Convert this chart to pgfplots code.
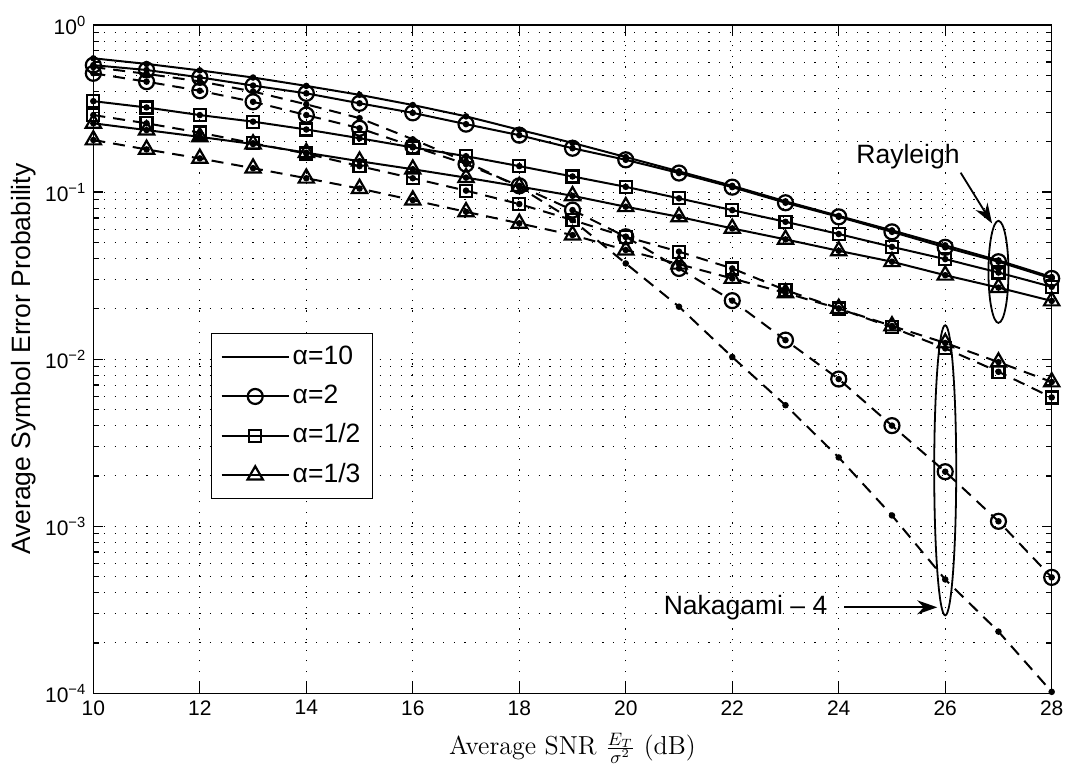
\documentclass[border=0pt]{standalone}
\usepackage{fontspec}
\setsansfont{Liberation Sans}
\usepackage{pgfplots}
\pgfplotsset{compat=1.18}
\usepackage{pgfplotstable}
\usetikzlibrary{arrows.meta}

% r = Rayleigh (solid), n = Nakagami-4 (dashed); 10, 2, 1/2, 1/3 = alpha
\pgfplotstableread{
snr r10   r2     r12    r13    n10      n2       n12    n13
10  0.632 0.575  0.350  0.258  0.560    0.514    0.289  0.205
11  0.585 0.538  0.321  0.235  0.510    0.458    0.258  0.180
12  0.535 0.486  0.289  0.214  0.460    0.404    0.227  0.159
13  0.485 0.434  0.264  0.194  0.400    0.347    0.196  0.139
14  0.432 0.390  0.237  0.172  0.335    0.289    0.170  0.121
15  0.382 0.340  0.210  0.153  0.277    0.241    0.143  0.105
16  0.332 0.298  0.185  0.137  0.207    0.188    0.121  0.0895
17  0.284 0.255  0.164  0.122  0.152    0.147    0.102  0.0762
18  0.236 0.219  0.143  0.108  0.107    0.109    0.0848 0.065
19  0.197 0.183  0.124  0.095  0.068    0.078    0.068  0.0553
20  0.162 0.156  0.1075 0.0817 0.0374   0.054    0.054  0.045
21  0.133 0.130  0.0917 0.0711 0.0206   0.0349   0.044  0.037
22  0.109 0.107  0.078  0.0606 0.0103   0.0224   0.0349 0.0304
23  0.088 0.0863 0.0664 0.0521 0.0053   0.0130   0.0259 0.0249
24  0.072 0.0711 0.0561 0.0445 0.00258  0.0076   0.0201 0.0201
25  0.059 0.0578 0.0470 0.0383 0.00116  0.0040   0.0155 0.0158
26  0.048 0.0467 0.0397 0.0318 0.00048  0.00212  0.0116 0.0125
27  0.039 0.0383 0.0330 0.0268 0.000234 0.00107  0.0084 0.0096
28  0.031 0.0304 0.0271 0.0223 0.000102 0.000494 0.0059 0.0073
}\sertable

\newcommand\lab{\sffamily\fontsize{13.25}{15}\selectfont}

\begin{document}
\begin{tikzpicture}
\begin{axis}[
    width=479pt, height=334pt, scale only axis,
    xmin=10, xmax=28,
    ymode=log, ymin=1e-4, ymax=1,
    xtick={10,12,...,28},
    ytick={1e-4,1e-3,1e-2,1e-1,1},
    yticklabels={10\textsuperscript{−4},10\textsuperscript{−3},10\textsuperscript{−2},10\textsuperscript{−1},10\textsuperscript{0}},
    /pgf/number format/assume math mode=true,
    ticklabel style={font=\sffamily\fontsize{10.5}{12}\selectfont},
    xmajorgrids, ymajorgrids, yminorgrids,
    major grid style={black, line width=0.5pt, dash pattern=on 0.6pt off 4.7pt},
    minor grid style={black, line width=0.5pt, dash pattern=on 0.6pt off 4.7pt},
    tick align=inside,
    major tick length=5pt, minor tick length=3pt,
    tick style={black, line width=0.6pt},
    axis line style={line width=0.6pt},
    clip=false,
    xlabel={\fontsize{13}{15}\selectfont Average SNR $\frac{E_T}{\sigma^2}$ (dB)},
    xlabel style={at={(axis description cs:0.5,-0.082)}, anchor=center},
    ylabel={\lab Average Symbol Error Probability},
    ylabel style={at={(axis description cs:-0.073,0.5)}, anchor=center},
    legend style={at={(axis description cs:0.1229,0.2904)}, anchor=south west,
      draw=black, line width=0.6pt, font=\lab,
      inner xsep=4.5pt, inner ysep=3.75pt, row sep=3.65pt,
      nodes={inner sep=1.5pt, text height=10pt, text depth=3pt}},
    legend cell align=left,
    legend image code/.code={\draw[mark repeat=2,mark phase=2,#1] plot coordinates {(0pt,0pt) (16.75pt,0pt) (33.5pt,0pt)};},
    every axis plot/.append style={black, line width=1pt},
  ]
% Rayleigh, solid
\addplot[solid] table[x=snr,y=r10] {\sertable};
\addlegendentry{α=10}
\addplot[solid, mark=o, mark size=3.75pt, mark options={solid, line width=1.1pt}] table[x=snr,y=r2] {\sertable};
\addlegendentry{α=2}
\addplot[solid, mark=square, mark size=3pt, mark options={solid, line width=1.1pt}] table[x=snr,y=r12] {\sertable};
\addlegendentry{α=1/2}
\addplot[solid, mark=triangle, mark size=4.4pt, mark options={solid, line width=1.1pt}] table[x=snr,y=r13] {\sertable};
\addlegendentry{α=1/3}
% Nakagami-4, dashed
\addplot[dash pattern=on 6pt off 4pt, forget plot] table[x=snr,y=n10] {\sertable};
\addplot[dash pattern=on 6pt off 4pt, mark=o, mark size=3.75pt, mark options={solid, line width=1.1pt}, forget plot] table[x=snr,y=n2] {\sertable};
\addplot[dash pattern=on 6pt off 4pt, mark=square, mark size=3pt, mark options={solid, line width=1.1pt}, forget plot] table[x=snr,y=n12] {\sertable};
\addplot[dash pattern=on 6pt off 4pt, mark=triangle, mark size=4.4pt, mark options={solid, line width=1.1pt}, forget plot] table[x=snr,y=n13] {\sertable};
% simulation dots
\pgfplotsinvokeforeach{r10,r2,r12,r13,n10,n2,n12,n13}{
  \addplot[only marks, mark=*, mark size=1.1pt, forget plot] table[x=snr,y=#1] {\sertable};
}
% annotations
\node[font=\lab] at (axis cs:25.3,0.164) {Rayleigh};
\draw[line width=0.9pt, -{Stealth[length=10pt,width=7pt]}] (axis cs:26.29,0.1306) -- (axis cs:26.88,0.0649);
\draw[line width=0.9pt] (axis cs:27,0.0333) ellipse [x radius=5pt, y radius=25.5pt];
\draw[line width=0.9pt] (axis cs:26,0.00216) ellipse [x radius=5.5pt, y radius=72.5pt];
\node[font=\lab] at (axis cs:22.25,3.27e-4) {Nakagami – 4};
\draw[line width=0.9pt, -{Stealth[length=10pt,width=7pt]}] (axis cs:24.1,3.27e-4) -- (axis cs:25.85,3.27e-4);
\end{axis}
\pgfresetboundingbox
\path ([shift={(-46.65pt,-37pt)}]current axis.south west) rectangle ([shift={(8.65pt,12.5pt)}]current axis.north east);
\end{tikzpicture}
\end{document}
